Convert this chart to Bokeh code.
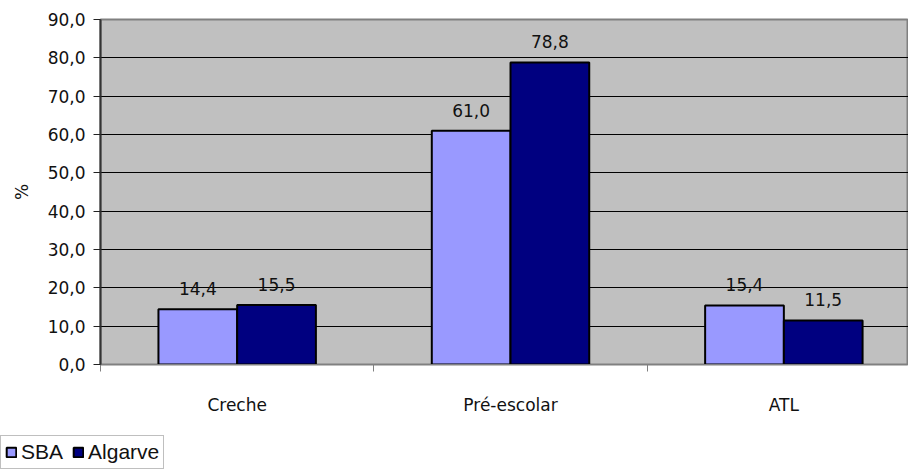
from bokeh.plotting import figure
from bokeh.models import (Range1d, LinearAxis, FixedTicker, CustomJSTickFormatter,
                          Legend, LegendItem, ColumnDataSource, LabelSet, Grid)
from bokeh.layouts import column
from bokeh.core.properties import value
from bokeh.embed import file_html
from bokeh.resources import INLINE

categories = ["Creche", "Pré-escolar", "ATL"]
sba = [14.4, 61.0, 15.4]
algarve = [15.5, 78.8, 11.5]
series_names = ["SBA", "Algarve"]
series_colors = ["#9999FF", "#000080"]
y_ticks = [0, 10, 20, 30, 40, 50, 60, 70, 80, 90]

FONT = "DejaVu Sans"
FS = "17px"

p = figure(width=908, height=435, output_backend="svg", toolbar_location=None,
           x_axis_type=None, y_axis_type=None,
           x_range=Range1d(0, 2.956), y_range=Range1d(0, 90),
           min_border_left=100, min_border_right=0, min_border_top=19, min_border_bottom=71)
p.border_fill_color = "white"
p.background_fill_color = "#C0C0C0"
p.outline_line_color = "#808080"
p.outline_line_width = 2

idx = list(range(len(categories)))
src = ColumnDataSource(dict(
    x_sba=[i + 0.356 for i in idx], x_alg=[i + 0.644 for i in idx],
    sba=sba, alg=algarve,
    sba_lbl=[f"{v:.1f}".replace(".", ",") for v in sba],
    alg_lbl=[f"{v:.1f}".replace(".", ",") for v in algarve]))

yaxis = LinearAxis(ticker=FixedTicker(ticks=y_ticks, minor_ticks=[]),
                   formatter=CustomJSTickFormatter(code="return tick.toFixed(1).replace('.', ',');"),
                   axis_label="%", axis_label_text_font=FONT, axis_label_text_font_size=FS,
                   axis_label_text_font_style="normal", axis_label_standoff=13,
                   axis_label_text_color="#111111",
                   major_label_text_font=FONT, major_label_text_font_size=FS,
                   major_label_text_color="#111111",
                   major_tick_out=7, major_tick_in=0, major_tick_line_color="#222222",
                   axis_line_color="#333333", axis_line_width=2, major_label_standoff=8)
p.add_layout(yaxis, "left")
p.add_layout(Grid(dimension=1, ticker=yaxis.ticker, grid_line_color="black", grid_line_width=1))

xticks_axis = LinearAxis(ticker=FixedTicker(ticks=[0, 1, 2, 3], minor_ticks=[]),
                         major_label_overrides={0: "", 1: "", 2: "", 3: ""},
                         major_label_text_font_size="1px", major_label_standoff=0,
                         major_tick_out=7, major_tick_in=0, major_tick_line_color="#808080",
                         axis_line_color="#808080", axis_line_width=1)
p.add_layout(xticks_axis, "below")
xlab_axis = LinearAxis(ticker=FixedTicker(ticks=[i + 0.5 for i in idx], minor_ticks=[]),
                       major_label_overrides={i + 0.5: c for i, c in zip(idx, categories)},
                       major_label_text_font=FONT, major_label_text_font_size=FS,
                       major_label_text_color="#111111",
                       major_tick_out=0, major_tick_in=0, axis_line_alpha=0,
                       major_label_standoff=23)
p.add_layout(xlab_axis, "below")

p.vbar(x="x_sba", top="sba", width=0.288, source=src, fill_color=series_colors[0],
       line_color="black", line_width=2)
p.vbar(x="x_alg", top="alg", width=0.288, source=src, fill_color=series_colors[1],
       line_color="black", line_width=2)

for xcol, ycol, lcol in [("x_sba", "sba", "sba_lbl"), ("x_alg", "alg", "alg_lbl")]:
    p.add_layout(LabelSet(x=xcol, y=ycol, text=lcol, source=src, text_align="center",
                          text_baseline="bottom", y_offset=14, text_font=value(FONT),
                          text_font_size=value(FS), text_color="#111111"))

# legend in a small figure below the chart (its own bars lie outside its view)
lf = figure(width=173, height=34, output_backend="svg", toolbar_location=None,
            x_axis_type=None, y_axis_type=None, x_range=Range1d(10, 11), y_range=Range1d(200, 201),
            min_border=0)
lf.frame_align = False
lf.outline_line_color = None
lf.grid.visible = False
lf.background_fill_color = "white"
lf.border_fill_color = "white"
lrs = [lf.vbar(x=xc, top=yc, width=0.288, source=src, fill_color=c, line_color="black",
               line_width=2)
       for xc, yc, c in zip(["x_sba", "x_alg"], ["sba", "alg"], series_colors)]
legend = Legend(items=[LegendItem(label=n, renderers=[r]) for n, r in zip(series_names, lrs)],
                location="top_left", orientation="horizontal",
                label_text_font="Liberation Sans", label_text_font_size="21px",
                label_text_color="#111111",
                glyph_width=12, glyph_height=12, label_standoff=4, spacing=9,
                padding=4, margin=0, border_line_color="#808080", border_line_width=1.5,
                background_fill_color="white", background_fill_alpha=1)
lf.add_layout(legend, "center")

open("out.html", "w").write(file_html(column(p, lf, spacing=0), INLINE))
